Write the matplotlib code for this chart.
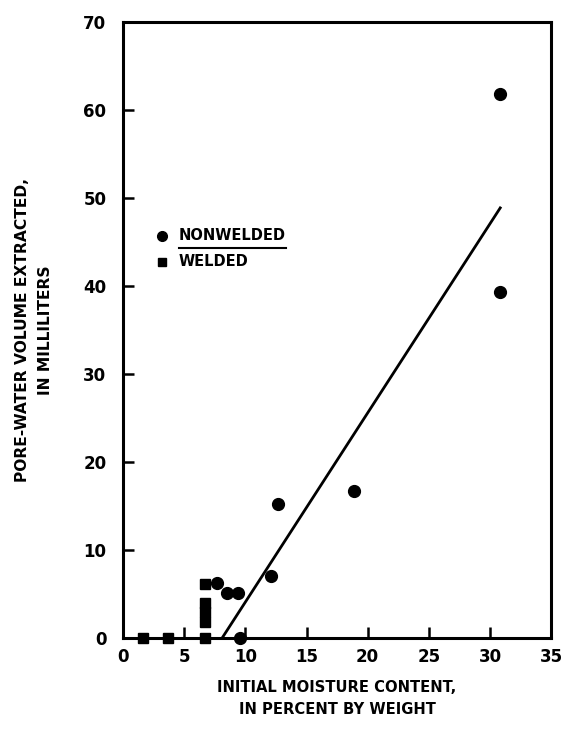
import matplotlib.pyplot as plt

# Nonwelded samples (initial moisture %, pore-water volume mL)
nonwelded_x = [30.8, 30.8, 18.9, 12.7, 12.1, 7.7, 8.5, 9.4, 9.6]
nonwelded_y = [61.8, 39.3, 16.7, 15.2, 7.0, 6.2, 5.1, 5.1, 0.0]

# Welded samples
welded_x = [1.6, 3.7, 6.7, 6.7, 6.7, 6.7, 6.7]
welded_y = [0.0, 0.0, 0.0, 1.8, 3.0, 4.0, 6.1]

# Fitted line end points
fit_x = [8.1, 30.9]
fit_y = [0.0, 49.0]

xticks = [0, 5, 10, 15, 20, 25, 30, 35]
yticks = [0, 10, 20, 30, 40, 50, 60, 70]

plt.rcParams['font.family'] = ['DejaVu Sans']
plt.rcParams['font.weight'] = 'bold'

fig = plt.figure(figsize=(5.67, 7.30), dpi=100)
ax = fig.add_axes([0.217, 0.126, 0.755, 0.844])

ax.plot(fit_x, fit_y, color='black', lw=2.0, solid_capstyle='butt')
ax.plot(nonwelded_x, nonwelded_y, 'o', color='black', ms=8.5, clip_on=False)
ax.plot(welded_x, welded_y, 's', color='black', ms=6.5, clip_on=False)

ax.set_xlim(0, 35)
ax.set_ylim(0, 70)
ax.set_xticks(xticks)
ax.set_yticks(yticks)
ax.tick_params(direction='in', length=8, width=1.8, labelsize=12)
ax.tick_params(axis='y', pad=12)
ax.tick_params(axis='x', pad=7)
for lab in ax.get_xticklabels() + ax.get_yticklabels():
    lab.set_fontweight('bold')
for s in ax.spines.values():
    s.set_linewidth(2.2)

ax.set_xlabel('INITIAL MOISTURE CONTENT,\nIN PERCENT BY WEIGHT',
              fontsize=10.6, fontweight='bold', linespacing=1.6, labelpad=10)
ax.set_ylabel('PORE-WATER VOLUME EXTRACTED,\nIN MILLILITERS',
              fontsize=11.2, fontweight='bold', linespacing=1.6, labelpad=22)

# Hand-made legend
ax.plot([0.09], [0.653], 'o', color='black', ms=7, transform=ax.transAxes)
t1 = ax.text(0.13, 0.653, 'NONWELDED', transform=ax.transAxes, fontsize=10.5,
             fontweight='bold', va='center', ha='left')
ax.plot([0.09], [0.611], 's', color='black', ms=6, transform=ax.transAxes)
ax.text(0.13, 0.611, 'WELDED', transform=ax.transAxes, fontsize=10.5,
        fontweight='bold', va='center', ha='left')

# underline under NONWELDED, sized to the text
fig.canvas.draw()
bb = t1.get_window_extent().transformed(ax.transAxes.inverted())
ax.plot([bb.x0, bb.x1], [0.633, 0.633], color='black', lw=1.5,
        transform=ax.transAxes)

fig.savefig('out.png', dpi=100)
